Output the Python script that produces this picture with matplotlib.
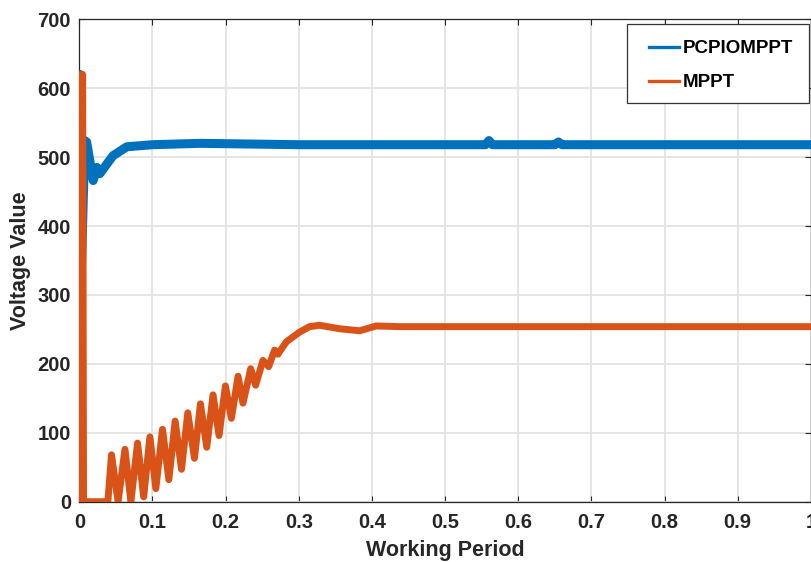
import matplotlib
matplotlib.use("Agg")
import matplotlib.pyplot as plt
from matplotlib.lines import Line2D
from matplotlib.patches import Rectangle

# data
t_pcpi = [0.0, 0.0008, 0.002, 0.0075, 0.010, 0.019, 0.024, 0.028, 0.046, 0.065,
          0.10, 0.165, 0.30, 0.50, 0.555, 0.56, 0.565, 0.65, 0.655, 0.66, 1.0]
v_pcpi = [0, 620, 300, 524, 522, 466, 485, 476, 502, 515,
          518, 520, 518, 518, 518, 524, 518, 518, 522, 518, 518]

t_mppt = [0.0, 0.0025, 0.0035, 0.0045, 0.0058, 0.039,
          0.044, 0.053, 0.0624, 0.0705, 0.0796, 0.088, 0.0965, 0.1046,
          0.1137, 0.1224, 0.131, 0.1397, 0.1483, 0.1574, 0.1656, 0.1742,
          0.1828, 0.191, 0.1997, 0.2079, 0.217, 0.2237, 0.2343, 0.241,
          0.251, 0.2588, 0.267, 0.2715, 0.283, 0.301, 0.3147, 0.3284,
          0.3557, 0.383, 0.4057, 0.4375, 1.0]
v_mppt = [0, 0, 620, 620, 0, 0,
          68, 0, 76, 0, 85, 7, 94, 19,
          105, 32, 117, 47, 129, 63, 142, 79,
          155, 96, 168, 121, 182, 143, 193, 169,
          205, 196, 220, 214, 232, 246, 254, 256,
          251, 248, 255, 254, 254]

labels = ["PCPIOMPPT", "MPPT"]
colors = ["#0072BD", "#D95319"]
x_ticks = [0, 0.1, 0.2, 0.3, 0.4, 0.5, 0.6, 0.7, 0.8, 0.9, 1]
x_tick_labels = ["0", "0.1", "0.2", "0.3", "0.4", "0.5", "0.6", "0.7", "0.8", "0.9", "1"]
y_ticks = [0, 100, 200, 300, 400, 500, 600, 700]

plt.rcParams['font.family'] = ['Liberation Sans', 'DejaVu Sans']
plt.rcParams['font.weight'] = 'bold'

fig = plt.figure(figsize=(8.11, 5.62), dpi=100)
ax = fig.add_axes([0.0978, 0.1073, 0.902, 0.8584])

ax.plot(t_pcpi, v_pcpi, color=colors[0], lw=6.5, solid_joinstyle='round', zorder=3)
ax.plot(t_mppt, v_mppt, color=colors[1], lw=5, solid_joinstyle='round', zorder=3)

ax.set_xlim(0, 1)
ax.set_ylim(0, 700)
ax.set_xticks(x_ticks)
ax.set_xticklabels(x_tick_labels)
ax.set_yticks(y_ticks)
ax.grid(True, color="#e3e3e3", lw=1.3)
ax.set_axisbelow(True)
ax.tick_params(direction='in', length=4, width=0.8, colors="#262626",
               labelsize=14.5, top=True, right=True)
ax.tick_params(axis='x', pad=8)
ax.tick_params(axis='y', pad=6)
for lab in ax.get_xticklabels() + ax.get_yticklabels():
    lab.set_fontweight('bold')
for s in ax.spines.values():
    s.set_color("#262626")
    s.set_linewidth(0.9)

ax.set_xlabel("Working Period", fontsize=15.5, fontweight='bold', color="#262626", labelpad=6)
ax.set_ylabel("Voltage Value", fontsize=15.5, fontweight='bold', color="#262626", labelpad=5)

# legend box
fig.patches.append(Rectangle((627 / 811, 1 - 103 / 562), 182 / 811, 79 / 562,
                             transform=fig.transFigure, facecolor="white",
                             edgecolor="#333333", lw=0.9, zorder=4))
handles = [Line2D([0], [0], color=c, lw=2.4) for c in colors]
leg = fig.legend(handles, labels, loc='upper left',
                 bbox_to_anchor=(634 / 811, 1 - 25 / 562),
                 bbox_transform=fig.transFigure, frameon=False,
                 prop={'size': 13.5, 'weight': 'bold'}, handlelength=1.6,
                 handletextpad=0.2, labelspacing=0.9, borderpad=0.3)
leg.set_zorder(5)

fig.savefig("out.png", dpi=100)
